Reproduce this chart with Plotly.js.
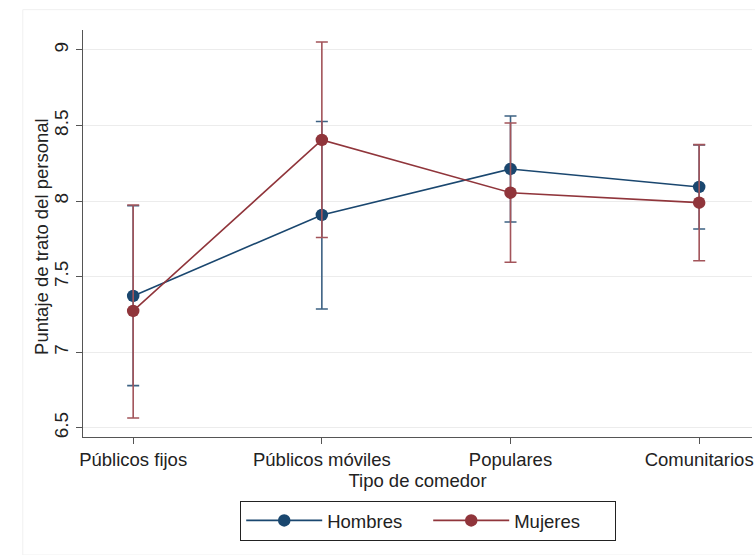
<!DOCTYPE html>
<html>
<head>
<meta charset="utf-8">
<script src="https://cdn.plot.ly/plotly-3.0.1.min.js"></script>
<style>html,body{margin:0;padding:0;background:#fff;}#chart{width:755px;height:555px;}</style>
</head>
<body>
<div id="chart"></div>
<script>
const categories = ["Públicos fijos", "Públicos móviles", "Populares", "Comunitarios"];
const hombresMean = [7.373, 7.909, 8.213, 8.094];
const hombresLow  = [6.78, 7.287, 7.862, 7.816];
const hombresHigh = [7.97, 8.527, 8.563, 8.372];
const mujeresMean = [7.274, 8.405, 8.056, 7.99];
const mujeresLow  = [6.566, 7.76, 7.596, 7.606];
const mujeresHigh = [7.975, 9.053, 8.517, 8.374];
const yTicks = [6.5, 7, 7.5, 8, 8.5, 9];
const yTitle = "Puntaje de trato del personal";
const xTitle = "Tipo de comedor";

const xIdx = categories.map((c, i) => i);
function errs(mean, lo, hi) {
  return {plus: hi.map((h, i) => h - mean[i]), minus: mean.map((m, i) => m - lo[i])};
}
const eh = errs(hombresMean, hombresLow, hombresHigh);
const em = errs(mujeresMean, mujeresLow, mujeresHigh);
const navy = "#1a476f", maroon = "#90353b";

const traces = [
  {x: xIdx, y: hombresMean, name: "Hombres", type: "scatter", mode: "lines+markers",
   line: {color: navy, width: 1.6}, marker: {color: navy, size: 12.5},
   error_y: {type: "data", symmetric: false, array: eh.plus, arrayminus: eh.minus,
             color: "#3d6283", thickness: 1.6, width: 6}},
  {x: xIdx, y: mujeresMean, name: "Mujeres", type: "scatter", mode: "lines+markers",
   line: {color: maroon, width: 1.6}, marker: {color: maroon, size: 12.5},
   error_y: {type: "data", symmetric: false, array: em.plus, arrayminus: em.minus,
             color: "#a3545a", thickness: 1.6, width: 6}}
];

const font = "Liberation Sans, Arial, sans-serif";
const layout = {
  width: 755, height: 555,
  margin: {l: 83, r: 3, t: 30, b: 118},
  paper_bgcolor: "#ffffff", plot_bgcolor: "#ffffff",
  font: {family: font, size: 18.5, color: "#222"},
  showlegend: true,
  xaxis: {
    range: [-0.266, 3.28], tickmode: "array", tickvals: xIdx, ticktext: categories,
    showgrid: false, zeroline: false, showline: true, linecolor: "#555", linewidth: 1.2,
    ticks: "outside", ticklen: 6, tickcolor: "#555", tickfont: {size: 18.5, color: "#222"},
    title: {text: xTitle, font: {size: 18.5, color: "#222"}, standoff: 0}
  },
  yaxis: {
    range: [6.44, 9.132], tickmode: "array", tickvals: yTicks, ticktext: yTicks.map(String),
    tickangle: -90, showgrid: true, gridcolor: "#ececec", gridwidth: 1,
    zeroline: false, showline: true, linecolor: "#555", linewidth: 1.2,
    ticks: "outside", ticklen: 6, tickcolor: "#555", tickfont: {size: 19, color: "#222"}
  },
  legend: {
    orientation: "h", x: 0.516, xanchor: "center", y: -0.157, yanchor: "top",
    bordercolor: "#222", borderwidth: 1, bgcolor: "#fff",
    font: {size: 18.5, color: "#222"}, itemwidth: 76, entrywidth: 96
  },
  annotations: [{text: yTitle, xref: "paper", yref: "paper", x: -0.0613, y: 0.494,
                 xanchor: "center", yanchor: "middle", textangle: -90, showarrow: false,
                 font: {size: 18.5, color: "#222"}}],
  shapes: [{type: "rect", xref: "paper", yref: "paper", x0: -0.09, x1: 1.01, y0: -0.29, y1: 1.05,
            line: {color: "#f0f0f0", width: 1}, layer: "below"}]
};
Plotly.newPlot("chart", traces, layout, {displayModeBar: false, staticPlot: true});
</script>
</body>
</html>
